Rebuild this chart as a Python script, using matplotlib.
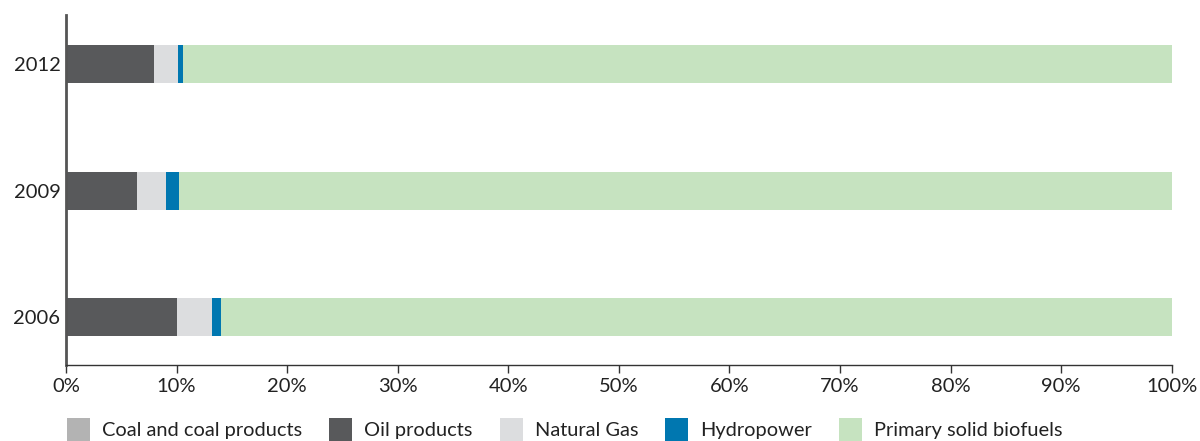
import matplotlib.pyplot as plt
from matplotlib.patches import Patch

plt.rcParams['font.family'] = ['Lato', 'DejaVu Sans']

# Share of total final energy consumption (%)
years = ['2006', '2009', '2012']
coal = [0.0, 0.0, 0.0]
oil = [10.0, 6.4, 8.0]
gas = [3.2, 2.6, 2.1]
hydro = [0.8, 1.2, 0.5]
biofuels = [86.0, 89.8, 89.4]

series = [
    ('Coal and coal products', coal, '#b3b3b3'),
    ('Oil products', oil, '#58595b'),
    ('Natural Gas', gas, '#dcdddf'),
    ('Hydropower', hydro, '#0077b0'),
    ('Primary solid biofuels', biofuels, '#c6e3c0'),
]

fig = plt.figure(figsize=(12, 4.41), dpi=100)
ax = fig.add_axes([0.055, 0.172, 0.9215, 0.794])

ypos = range(len(years))
left = [0.0] * len(years)
handles = []
for name, vals, color in series:
    ax.barh(ypos, vals, left=left, height=0.3, color=color, linewidth=0)
    left = [l + v for l, v in zip(left, vals)]
    handles.append(Patch(facecolor=color, edgecolor='none', label=name))

ax.set_xlim(0, 100)
ax.set_ylim(-0.38, 2.39)
ax.set_yticks(list(ypos))
ax.set_yticklabels(years, fontsize=14.5, color='#222222')
ax.set_xticks(range(0, 101, 10))
ax.set_xticklabels([f'{t}%' for t in range(0, 101, 10)], fontsize=14.5, color='#222222')

for s in ['top', 'right']:
    ax.spines[s].set_visible(False)
ax.spines['left'].set_color('#555555')
ax.spines['left'].set_linewidth(2)
ax.spines['bottom'].set_color('#333333')
ax.spines['bottom'].set_linewidth(1)
ax.tick_params(axis='y', length=0, pad=4)
ax.tick_params(axis='x', length=6, width=1, color='#333333', pad=3)

fig.legend(handles=handles, loc='lower left', bbox_to_anchor=(0.041, -0.04),
           ncol=5, frameon=False, fontsize=14.4, handlelength=1.15, handleheight=1.4,
           handletextpad=0.6, columnspacing=1.35, labelcolor='#222222')

plt.savefig('out.png', dpi=100)
